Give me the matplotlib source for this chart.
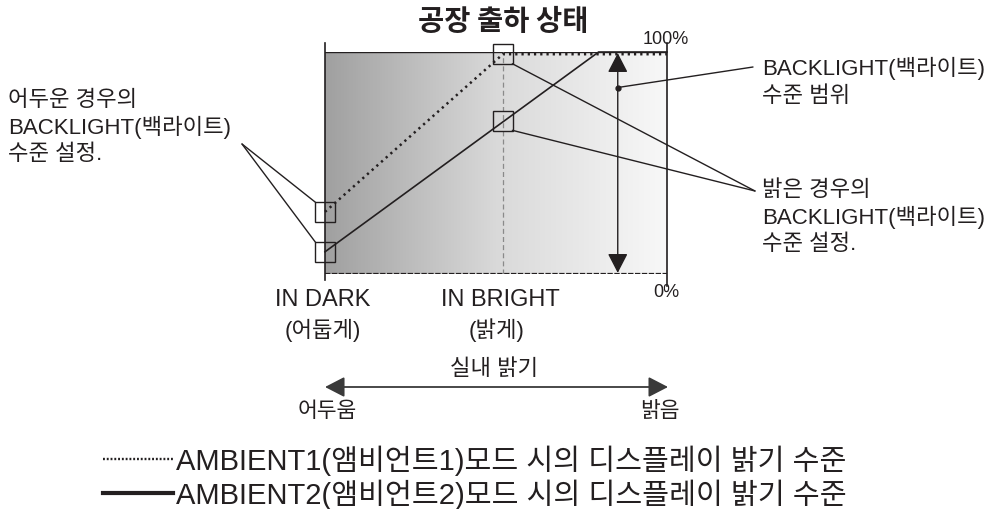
import numpy as np
import matplotlib.pyplot as plt
from matplotlib.colors import LinearSegmentedColormap
from matplotlib.lines import Line2D
from matplotlib.transforms import offset_copy

plt.rcParams['font.family'] = ['Liberation Sans', 'Noto Sans CJK KR']

W, H = 991, 510
ink = '#231f20'

# x: room brightness (0 = dark, 100 = bright), y: backlight level in %
dark_x = 0
bright_x = 52
amb1_x = [0, 52, 100]
amb1_y = [28, 99, 99]
amb2_x = [0, 80, 100]
amb2_y = [10, 100, 100]
dark_levels = [28, 10]      # AMBIENT1, AMBIENT2 at IN DARK
bright_levels = [99, 69]    # AMBIENT1, AMBIENT2 at IN BRIGHT
range_x = 85.6
range_lo, range_hi = 0.5, 99.5
range_dot = 84

title = '공장 출하 상태'
dark_note = ['어두운 경우의', 'BACKLIGHT(백라이트)', '수준 설정.']
bright_note = ['밝은 경우의', 'BACKLIGHT(백라이트)', '수준 설정.']
range_note = ['BACKLIGHT(백라이트)', '수준 범위']
legend_labels = ['AMBIENT1(앰비언트1)모드 시의 디스플레이 밝기 수준',
                 'AMBIENT2(앰비언트2)모드 시의 디스플레이 밝기 수준']


def fp(x, y):
    return x / W, 1 - y / H


fig = plt.figure(figsize=(W / 100, H / 100), dpi=100)
ax = fig.add_axes([325 / W, 1 - 275 / H, 342 / W, 222 / H])
ax.set_xlim(0, 100)
ax.set_ylim(0, 100)
ax.axis('off')

# grey background gradient
cmap = LinearSegmentedColormap.from_list('bg', ['#a0a0a0', '#d9d9d9', '#f8f8f8'])
ax.imshow(np.linspace(0, 1, 256)[None, :], extent=[0, 100, 0, 100],
          aspect='auto', cmap=cmap, zorder=0)

# frame
ax.axvline(0, ymin=-0.025, ymax=1.04, color=ink, lw=1.2, clip_on=False)
ax.axvline(100, ymin=-0.055, ymax=1.04, color=ink, lw=1.2, clip_on=False)
ax.axhline(100, color=ink, lw=1)
ax.axhline(0, color=ink, lw=1.6, ls=(0, (2.4, 0.7)))
ax.axvline(bright_x, color='#8a8a8a', lw=0.9, ls=(0, (4, 2.5)))

ax.plot(amb1_x, amb1_y, color=ink, lw=1.8, ls=(0, (0.9, 1.6)), clip_on=False)
ax.plot(amb2_x, amb2_y, color=ink, lw=1.2, clip_on=False)

sq = dict(marker='s', ms=13.7, mfc='none', mec=ink, mew=1, ls='none', clip_on=False)
ax.plot([dark_x] * 2, dark_levels, **sq)
ax.plot([bright_x] * 2, bright_levels, **sq)

# backlight range arrow
ax.annotate('', xy=(range_x, range_lo), xytext=(range_x, range_hi),
            arrowprops=dict(arrowstyle='<|-|>,head_length=1.2,head_width=0.62',
                            mutation_scale=10, color=ink, lw=1,
                            shrinkA=0, shrinkB=0))
ax.plot(range_x, range_dot, 'o', color=ink, ms=3.5)

# room brightness arrow
ax.annotate('', xy=(100.3, -0.509), xytext=(0, -0.509),
            xycoords=ax.get_xaxis_transform(),
            textcoords=ax.get_xaxis_transform(),
            arrowprops=dict(arrowstyle='<|-|>,head_length=1.2,head_width=0.62',
                            mutation_scale=10, color='#3a3a3a', lw=1.3,
                            shrinkA=0, shrinkB=0))

# leader lines
lead = dict(arrowstyle='-', color=ink, lw=1, shrinkA=0, shrinkB=0)
ul = offset_copy(ax.transData, fig=fig, x=-9.5, y=9.5, units='dots')
lr = offset_copy(ax.transData, fig=fig, x=9.5, y=-9.5, units='dots')
for lv in dark_levels:
    ax.annotate('', xy=(dark_x, lv), xycoords=ul, xytext=fp(242, 145),
                textcoords='figure fraction', arrowprops=lead)
for lv in bright_levels:
    ax.annotate('', xy=(bright_x, lv), xycoords=lr, xytext=fp(755, 192),
                textcoords='figure fraction', arrowprops=lead)
ax.annotate('', xy=(range_x, range_dot), xytext=fp(753, 68),
            textcoords='figure fraction', arrowprops=lead)

# texts
fig.text(*fp(503, 22), title, fontsize=20.5, fontweight='bold',
         family='Noto Sans CJK KR', ha='center', va='center', color=ink)
fig.text(*fp(666, 40), '100%', fontsize=13, ha='center', va='center', color=ink)
fig.text(*fp(666, 293), '0%', fontsize=13, ha='center', va='center', color=ink)
fig.text(*fp(323, 300), 'IN DARK', fontsize=17, ha='center', va='center', color=ink)
fig.text(*fp(323, 330), '(어둡게)', fontsize=16, ha='center', va='center', color=ink)
fig.text(*fp(500, 300), 'IN BRIGHT', fontsize=17, ha='center', va='center', color=ink)
fig.text(*fp(497, 330), '(밝게)', fontsize=16, ha='center', va='center', color=ink)
fig.text(*fp(494, 370), '실내 밝기', fontsize=16, ha='center', va='center', color=ink)
fig.text(*fp(327, 412), '어두움', fontsize=15.5, ha='center', va='center', color=ink)
fig.text(*fp(660, 412), '밝음', fontsize=15.5, ha='center', va='center', color=ink)

for i, s in enumerate(dark_note):
    fig.text(*fp(8, 100 + 27.5 * i), s, fontsize=16, va='center', color=ink)
for i, s in enumerate(bright_note):
    fig.text(*fp(762, 190 + 27 * i), s, fontsize=16, va='center', color=ink)
for i, s in enumerate(range_note):
    fig.text(*fp(762, 68 + 29 * i), s, fontsize=16, va='center', color=ink)

handles = [Line2D([], [], color=ink, lw=1.7, ls=(0, (0.8, 0.8))),
           Line2D([], [], color=ink, lw=3)]
fig.legend(handles, legend_labels, loc='upper left', bbox_to_anchor=fp(103, 446),
           frameon=False, fontsize=21, handlelength=2.4, handletextpad=0.1,
           borderpad=0, borderaxespad=0, labelspacing=0.12, labelcolor=ink)

fig.savefig('out.png', dpi=100)
